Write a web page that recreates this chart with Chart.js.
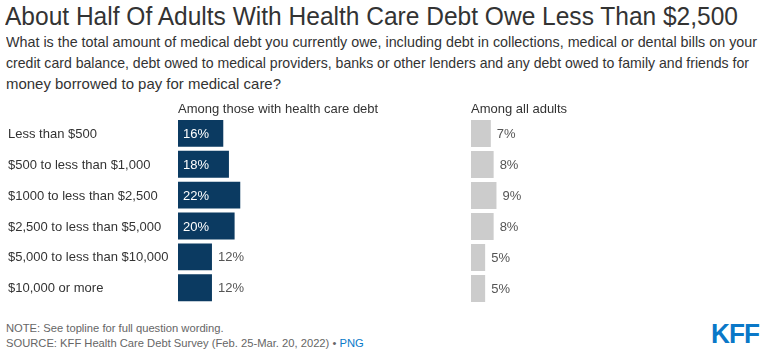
<!DOCTYPE html>
<html>
<head>
<meta charset="utf-8">
<script src="https://cdn.jsdelivr.net/npm/chart.js@4.4.1/dist/chart.umd.min.js"></script>
<style>
  body { margin: 0; width: 766px; height: 351px; background: #fff; position: relative; overflow: hidden;
         font-family: "Liberation Sans", Arial, sans-serif; color: #333; }
  .fit { position: absolute; white-space: nowrap; transform-origin: left top; }
  #title { left: 5px; top: 1px; font-size: 26px; line-height: 30px; color: #333; }
  .sub { left: 6px; font-size: 15px; line-height: 20px; color: #333; }
  #note { position: absolute; left: 6px; top: 321px; font-size: 11.2px; line-height: 15px; color: #666; }
  #note a { color: #0a7ac9; text-decoration: none; }
  #logo { left: 711px; top: 318px; font-size: 28px; font-weight: bold; color: #0a78c8; letter-spacing: -1px; }
  .wrap { position: absolute; top: 96px; height: 215px; }
</style>
</head>
<body>
<div id="title" class="fit" data-w="733">About Half Of Adults With Health Care Debt Owe Less Than $2,500</div>
<div class="fit sub" style="top:32px" data-w="751">What is the total amount of medical debt you currently owe, including debt in collections, medical or dental bills on your</div>
<div class="fit sub" style="top:53px" data-w="743">credit card balance, debt owed to medical providers, banks or other lenders and any debt owed to family and friends for</div>
<div class="fit sub" style="top:74px" data-w="275">money borrowed to pay for medical care?</div>
<div class="wrap" style="left:0;width:461px"><canvas id="left"></canvas></div>
<div class="wrap" style="left:471px;width:283px"><canvas id="right"></canvas></div>
<div id="note">NOTE: See topline for full question wording.<br>SOURCE: KFF Health Care Debt Survey (Feb. 25-Mar. 20, 2022) • <a>PNG</a></div>
<div id="logo" class="fit" data-w="48">KFF</div>
<script>
const categories = [
  "Less than $500",
  "$500 to less than $1,000",
  "$1000 to less than $2,500",
  "$2,500 to less than $5,000",
  "$5,000 to less than $10,000",
  "$10,000 or more"
];
const withDebt = [16, 18, 22, 20, 12, 12];
const allAdults = [7, 8, 9, 8, 5, 5];
const headers = ["Among those with health care debt", "Among all adults"];

// squeeze text lines to the widths seen in the original
document.querySelectorAll(".fit").forEach(el => {
  const w = el.getBoundingClientRect().width;
  el.style.transform = "scaleX(" + (el.dataset.w / w) + ")";
});

const FONT = "'Liberation Sans', Arial, sans-serif";

const barLabels = {
  id: "barLabels",
  afterDatasetsDraw(chart, args, opts) {
    const ctx = chart.ctx;
    const meta = chart.getDatasetMeta(0);
    ctx.save();
    ctx.font = "13px " + FONT;
    ctx.textBaseline = "middle";
    ctx.textAlign = "left";
    meta.data.forEach((bar, i) => {
      const v = chart.data.datasets[0].data[i];
      if (opts.inside && v >= opts.inside) {
        ctx.fillStyle = "#fff";
        ctx.fillText(v + "%", bar.base + 5, bar.y + 1);
      } else {
        ctx.fillStyle = "#555";
        ctx.fillText(v + "%", bar.x + 6, bar.y + 1);
      }
    });
    ctx.fillStyle = "#333";
    ctx.textBaseline = "alphabetic";
    ctx.fillText(opts.header, chart.chartArea.left, 17);
    ctx.restore();
  }
};

function makeChart(id, values, color, withLabels, header, inside) {
  return new Chart(document.getElementById(id), {
    type: "bar",
    data: {
      labels: categories,
      datasets: [{ data: values, backgroundColor: color, barPercentage: 0.87, categoryPercentage: 1 }]
    },
    options: {
      indexAxis: "y",
      responsive: true,
      maintainAspectRatio: false,
      animation: false,
      layout: { padding: { left: withLabels ? 8 : 0, top: 22, bottom: 7, right: 0 } },
      plugins: {
        legend: { display: false },
        tooltip: { enabled: false },
        barLabels: { header: header, inside: inside }
      },
      scales: {
        x: { min: 0, max: 100, display: false },
        y: {
          display: withLabels,
          grid: { display: false },
          border: { display: false },
          ticks: { crossAlign: "far", color: "#333", font: { size: 13, family: FONT }, padding: 0, labelOffset: 1 },
          afterFit(scale) { scale.width = withLabels ? 170 : 0; }
        }
      }
    },
    plugins: [barLabels]
  });
}

makeChart("left", withDebt, "#0b3a61", true, headers[0], 15);
makeChart("right", allAdults, "#cccccc", false, headers[1], 0);
</script>
</body>
</html>
